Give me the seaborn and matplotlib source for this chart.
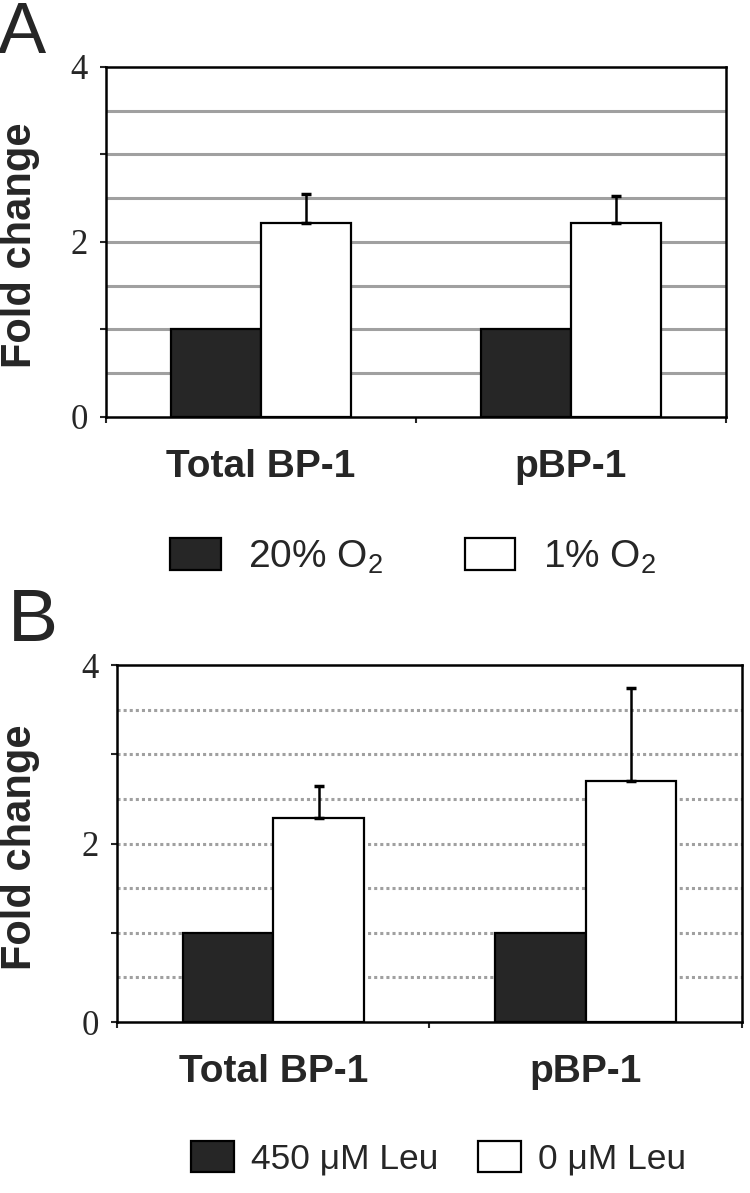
import numpy as np
import pandas as pd
import seaborn as sns
import matplotlib.pyplot as plt

# =====================================================
# DATA
# =====================================================

targets = ["Total BP-1", "pBP-1"]

conds_a = ["20% O$\\mathregular{_2}$", "1% O$\\mathregular{_2}$"]
fold_a = [1.0, 2.22, 1.0, 2.22]      # Total dark, Total white, pBP dark, pBP white
err_a = [0.0, 0.33, 0.0, 0.31]

conds_b = ["450 \u03bcM Leu", "0 \u03bcM Leu"]
fold_b = [1.0, 2.29, 1.0, 2.70]
err_b = [0.0, 0.35, 0.0, 1.04]

# =====================================================
# STYLE
# =====================================================

sns.set_style("white")
plt.rcParams["font.family"] = ["Liberation Sans", "DejaVu Sans"]
plt.rcParams["mathtext.default"] = "regular"

fig = plt.figure(figsize=(7.5, 11.93), dpi=100)

ax_a = fig.add_axes([0.1413, 0.6505, 0.8267, 0.2934])
ax_b = fig.add_axes([0.156, 0.1433, 0.8333, 0.2992])


def make_df(conds, fold, err):
    rows = []
    i = 0
    for t in targets:
        for c in conds:
            rows.append({"target": t, "cond": c, "fold": fold[i], "err": err[i]})
            i += 1
    return pd.DataFrame(rows)


def draw_panel(ax, df, conds, grid_ls, ylab_x):
    for yv in np.arange(0.5, 4.0, 0.5):
        ax.axhline(yv, color="#a0a0a0", lw=2.2, ls=grid_ls, zorder=0)

    sns.barplot(
        data=df, x="target", y="fold", hue="cond",
        order=targets, hue_order=conds,
        palette=["#262626", "white"],
        edgecolor="black", linewidth=1.6,
        width=0.58, errorbar=None, ax=ax, zorder=2
    )

    # upward-only error bars on bar centres
    for cont, c in zip(ax.containers, conds):
        sub = df[df["cond"] == c].set_index("target").loc[targets]
        for bar, (v, e) in zip(cont.patches, zip(sub["fold"], sub["err"])):
            if e > 0:
                xc = bar.get_x() + bar.get_width() / 2
                ax.errorbar(xc, v, yerr=[[0], [e]], color="black",
                            lw=1.8, capsize=3.5, capthick=2.5, zorder=3)

    ax.set_xlim(-0.5, 1.5)
    ax.set_ylim(0, 4)
    ax.set_yticks([0, 1, 2, 3, 4], labels=["0", "", "2", "", "4"])
    ax.tick_params(axis="y", direction="out", length=4, width=1.5, pad=9,
                   left=True, labelsize=25)
    for lab in ax.get_yticklabels():
        lab.set_family(["Liberation Serif", "DejaVu Serif"])

    ax.set_xticks([-0.5, 0.5, 1.5], minor=True)
    ax.tick_params(axis="x", which="minor", direction="out", length=4,
                   width=1.5, bottom=True)
    ax.tick_params(axis="x", which="major", length=0, pad=23,
                   labelsize=28)
    for lab in ax.get_xticklabels():
        lab.set_fontweight("bold")

    for s in ax.spines.values():
        s.set_visible(True)
        s.set_color("black")
        s.set_linewidth(1.8)

    ax.set_xlabel("")
    ax.set_ylabel("Fold change", fontsize=30, fontweight="bold")
    ax.yaxis.set_label_coords(ylab_x, 0.49)

    handles, labels = ax.get_legend_handles_labels()
    ax.get_legend().remove()
    return handles, labels


df_a = make_df(conds_a, fold_a, err_a)
df_b = make_df(conds_b, fold_b, err_b)

h_a, l_a = draw_panel(ax_a, df_a, conds_a, "-", -0.106)
h_b, l_b = draw_panel(ax_b, df_b, conds_b, (0, (1, 1)), -0.123)

# =====================================================
# LEGENDS
# =====================================================

fig.legend(h_a, l_a, loc="center", bbox_to_anchor=(0.551, 0.533), ncol=2,
           frameon=False, fontsize=28, handlelength=1.3, handleheight=0.9,
           handletextpad=0.7, columnspacing=2.1)

fig.legend(h_b, l_b, loc="center", bbox_to_anchor=(0.585, 0.029), ncol=2,
           frameon=False, fontsize=25.5, handlelength=1.2, handleheight=0.95,
           handletextpad=0.48, columnspacing=1.13)

# =====================================================
# PANEL LETTERS
# =====================================================

fig.text(-0.003, 0.999, "A", fontsize=52, va="top", ha="left")
fig.text(0.01, 0.508, "B", fontsize=54, va="top", ha="left")

fig.savefig("out.png", dpi=100)
